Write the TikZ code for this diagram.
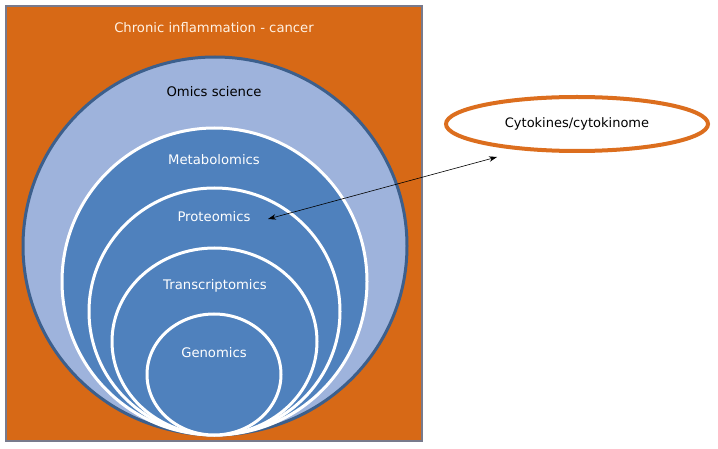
\documentclass[tikz,border=0pt]{standalone}
\usepackage{fontspec}
\setmainfont{DejaVu Sans}
\usetikzlibrary{arrows.meta,shapes.geometric}
\definecolor{omicsorange}{RGB}{215,105,22}
\definecolor{omicslight}{RGB}{158,179,220}
\definecolor{omicsblue}{RGB}{79,129,189}
\definecolor{omicsedge}{RGB}{60,95,140}
\definecolor{boxgray}{RGB}{120,122,140}
\definecolor{cytoorange}{RGB}{220,110,30}
\definecolor{titlecream}{RGB}{255,242,228}
\tikzset{
  lbl/.style={font=\fontsize{13.2}{15}\selectfont, text=white, anchor=base, inner sep=0pt},
  ring/.style={draw=white, line width=3pt, fill=omicsblue}
}
\begin{document}
\begin{tikzpicture}[x=1pt,y=-1pt]
    \useasboundingbox (0,0) rectangle (718,449);
    \filldraw [draw=boxgray,fill=omicsorange,line width=2pt] (6,6) rectangle (422,441);
    \filldraw [draw=omicsedge,fill=omicslight,line width=3pt] (215,246) ellipse [x radius=192,y radius=189];
    \filldraw [ring] (214.5,281.5) ellipse [x radius=152.5,y radius=153.5];
    \filldraw [ring] (214.5,311.5) ellipse [x radius=125.5,y radius=123.5];
    \filldraw [ring] (214.5,341.5) ellipse [x radius=102.5,y radius=93.5];
    \filldraw [ring] (214,374.5) ellipse [x radius=67,y radius=60.5];
    \node (title) [lbl, text=titlecream] at (214,33) {Chronic inflammation - cancer};
    \node (omics) [lbl, text=black] at (214,97) {Omics science};
    \node (metab) [lbl] at (214,165) {Metabolomics};
    \node (prot) [lbl] at (214,222) {Proteomics};
    \node (trans) [lbl] at (215,290) {Transcriptomics};
    \node (gen) [lbl] at (214,357) {Genomics};
    \node (cyto) [ellipse, draw=cytoorange, line width=4pt, minimum width=262, minimum height=54,
        font=\fontsize{13}{15}\selectfont] at (577,124) {Cytokines/cytokinome};
    \coordinate (protin) at (268,219);
    \coordinate (cytoin) at (497,157);
    \draw [{Stealth[length=8pt,width=5.5pt]}-{Stealth[length=8pt,width=5.5pt]}, line width=0.6pt] (protin) -- (cytoin);
\end{tikzpicture}
\end{document}
